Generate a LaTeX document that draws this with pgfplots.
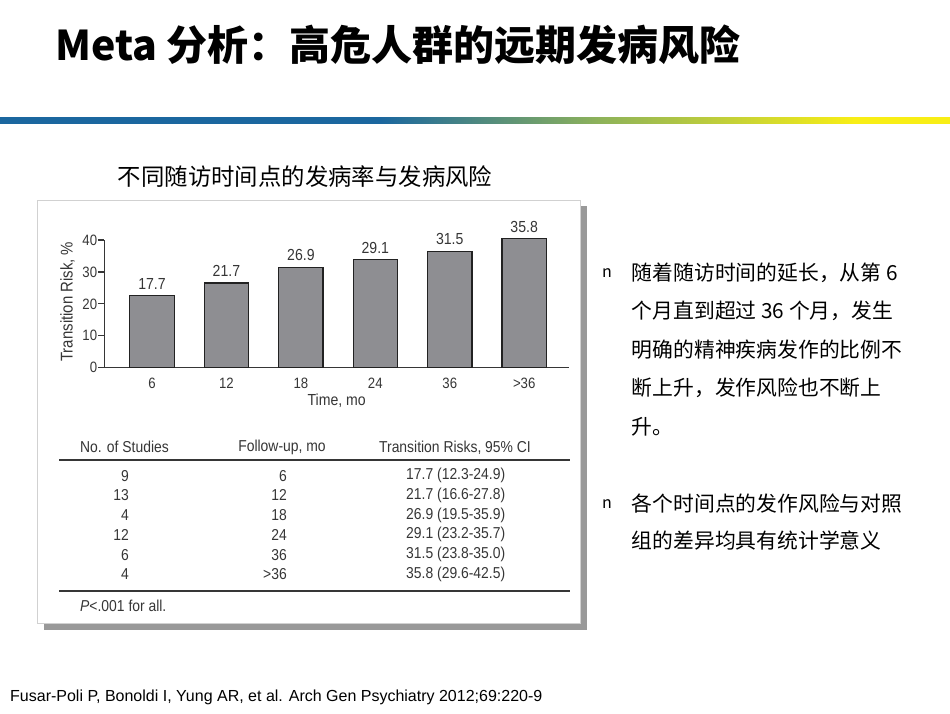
\documentclass[border=0pt]{standalone}
\usepackage{pgfplots}
\pgfplotsset{compat=1.18}
\usepackage{fontspec}
\setmainfont{Liberation Sans}
\newfontfamily\cjk{Noto Sans CJK SC}
\newfontfamily\chartfont{Liberation Sans}[FakeStretch=0.88]
\definecolor{barfill}{HTML}{8E8E92}
\definecolor{bardraw}{HTML}{222222}
\definecolor{ink}{HTML}{363636}
\definecolor{lineblue}{HTML}{1B679F}
\definecolor{linegreen}{HTML}{8DB25A}
\definecolor{lineyellow}{HTML}{F8EE16}
% the path is fitted to 25bp..75bp of the shading
\pgfdeclarehorizontalshading{rule}{100bp}{color(0bp)=(lineblue); color(45bp)=(lineblue); color(56.5bp)=(linegreen); color(70bp)=(lineyellow); color(100bp)=(lineyellow)}

\begin{document}
\begin{tikzpicture}[x=1pt,y=1pt]
\path[use as bounding box,fill=white] (0,0) rectangle (950,713);

% title and coloured rule
\node[anchor=west,inner sep=0pt] at (55,{713-45}) {\cjk\bfseries\fontsize{41}{48}\selectfont Meta 分析：高危人群的远期发病风险};
\shade[shading=rule] (0,{713-124}) rectangle (950,{713-118});

% subtitle
\node[inner sep=0pt] at (305,{713-177}) {\cjk\fontsize{23.4}{28}\selectfont 不同随访时间点的发病率与发病风险};

% panel with shadow
\fill[black!40] (44,{713-630}) rectangle (587,{713-206});
\draw[fill=white,draw=black!18,line width=0.8pt] (37,{713-623}) rectangle (580,{713-200});

\coordinate (axorig) at (104.3,345.3);
\begin{axis}[
    at={(axorig)}, anchor=south west,
    scale only axis, width=464.7pt, height=127.7pt,
    xmin=-0.641, xmax=5.602, ymin=0, ymax=40,
    clip=false,
    axis x line=bottom, axis y line=left,
    axis line style={draw=ink,line width=1.2pt,-},
    xtick={0,...,5}, xticklabels={6,12,18,24,36,{>36}},
    xtick style={draw=none},
    ytick={0,10,20,30,40},
    ytick style={draw=ink,line width=1.2pt},
    tick align=outside, major tick length=6pt,
    /pgf/number format/assume math mode=true,
    ticklabel style={font=\chartfont\fontsize{15}{17}\selectfont,text=ink},
    yticklabel style={inner sep=1pt},
    xticklabel style={inner sep=0pt,yshift=-4pt},
    xlabel={Time, mo},
    ylabel={Transition Risk, \%},
    every axis x label/.style={at={(axis description cs:0.5,-0.262)},anchor=center,font=\chartfont\fontsize{16}{18}\selectfont,text=ink},
    every axis y label/.style={at={(axis description cs:-0.079,0.517)},anchor=center,rotate=90,font=\chartfont\fontsize{17}{19}\selectfont,text=ink},
  ]
  \addplot[ybar, bar width=44.3pt, bar shift=0pt, fill=barfill, draw=bardraw, line width=1.2pt,
    point meta=explicit symbolic, nodes near coords,
    every node near coord/.style={anchor=base,yshift=6.5pt,inner sep=0pt,font=\chartfont\fontsize{16}{18}\selectfont,text=ink}]
    coordinates {(0,22.5) [17.7] (1,26.5) [21.7] (2,31.4) [26.9] (3,33.8) [29.1] (4,36.4) [31.5] (5,40.4) [35.8]};
\end{axis}

% table under the chart
\begin{scope}[every node/.style={inner sep=0pt,text=ink,font=\chartfont\fontsize{15.8}{18}\selectfont}]
\node[anchor=west] at (80,{713-447.3}) {No. of Studies};
\node at (282,{713-447.3}) {Follow-up, mo};
\node at (455,{713-447.3}) {Transition Risks, 95\% CI};
\draw[ink,line width=1.2pt] (59,{713-460}) -- (570,{713-460});
\foreach \n/\f/\r [count=\i from 0] in {9/6/17.7 (12.3-24.9), 13/12/21.7 (16.6-27.8), 4/18/26.9 (19.5-35.9), 12/24/29.1 (23.2-35.7), 6/36/31.5 (23.8-35.0), 4/{>36}/35.8 (29.6-42.5)}{
  \node[anchor=east] at (129,{713-475.7-19.72*\i}) {\n};
  \node[anchor=east] at (287,{713-475.7-19.72*\i}) {\f};
  \node at (455.7,{713-475.7-19.72*\i}) {\r};
}
\draw[ink,line width=1.2pt] (59,{713-591}) -- (570,{713-591});
\node[anchor=west] at (80,{713-606}) {\textit{P}<.001 for all.};
\end{scope}

% bullet text on the right
\begin{scope}[every node/.style={inner sep=0pt,anchor=west,font=\cjk\fontsize{20.8}{24}\selectfont}]
\node at (602,{713-272.7}) {\fontsize{16}{18}\selectfont n};
\node at (631.7,{713-272.7}) {随着随访时间的延长，从第 6};
\node at (631.7,{713-311.1}) {个月直到超过 36 个月，发生};
\node at (631.7,{713-349.6}) {明确的精神疾病发作的比例不};
\node at (631.7,{713-388.1}) {断上升，发作风险也不断上};
\node at (631.7,{713-426.6}) {升。};
\node at (602,{713-504}) {\fontsize{16}{18}\selectfont n};
\node at (631.7,{713-504}) {各个时间点的发作风险与对照};
\node at (631.7,{713-540.5}) {组的差异均具有统计学意义};
\end{scope}

% source
\node[anchor=west,inner sep=0pt,font=\fontsize{16}{18}\selectfont] at (10,{713-697}) {Fusar-Poli P, Bonoldi I, Yung AR, et al. Arch Gen Psychiatry 2012;69:220-9};
\end{tikzpicture}
\end{document}
